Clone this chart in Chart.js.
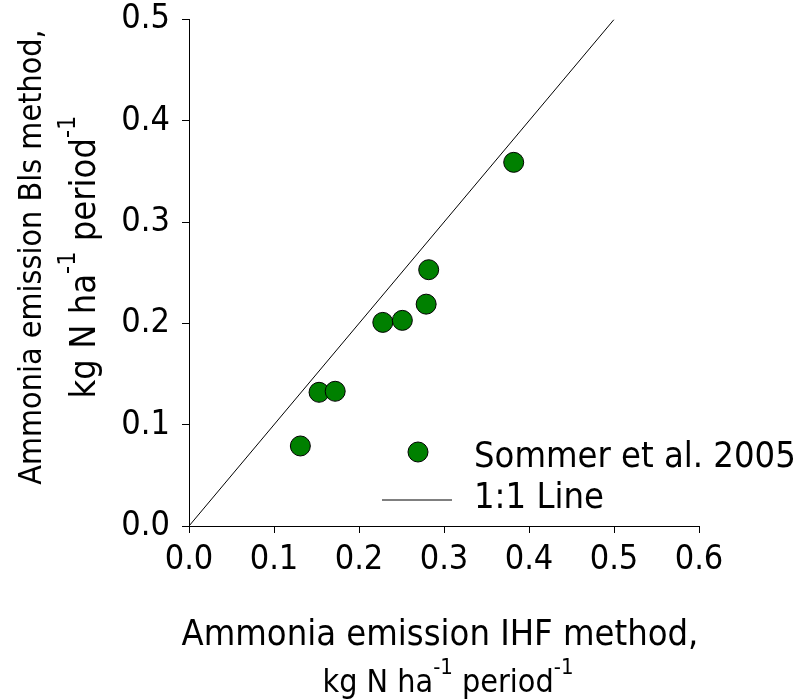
<!DOCTYPE html>
<html>
<head>
<meta charset="utf-8">
<script src="https://cdn.jsdelivr.net/npm/chart.js@4/dist/chart.umd.min.js"></script>
<style>
  html, body { margin: 0; padding: 0; background: #fff; }
  #wrap { width: 800px; height: 700px; }
</style>
</head>
<body>
<div id="wrap"><canvas id="emissionCanvas" width="800" height="700"></canvas></div>
<script>
// IHF (x) vs bLS (y) ammonia emission, kg N/ha per period
const ihfValues = [0.131, 0.153, 0.172, 0.228, 0.251, 0.279, 0.282, 0.382];
const blsValues = [0.079, 0.132, 0.133, 0.201, 0.203, 0.219, 0.253, 0.359];
const oneToOne = [0, 0.5];
const xTicks = [0, 0.1, 0.2, 0.3, 0.4, 0.5, 0.6];
const yTicks = [0, 0.1, 0.2, 0.3, 0.4, 0.5];
const seriesNames = ['Sommer et al. 2005', '1:1 Line'];

const FONT = "'DejaVu Sans Condensed', 'DejaVu Sans', sans-serif";
Chart.defaults.font.family = FONT;
Chart.defaults.color = '#000';

// text with superscripts, centred on cx
const drawRich = (ctx, parts, cx, y, size) => {
  const supSize = Math.round(size * 0.7);
  let total = 0;
  parts.forEach(p => {
    ctx.font = (p.sup ? supSize : size) + 'px ' + FONT;
    p.w = ctx.measureText(p.t).width;
    total += p.w;
  });
  let x = cx - total / 2;
  ctx.textAlign = 'left';
  ctx.textBaseline = 'alphabetic';
  parts.forEach(p => {
    ctx.font = (p.sup ? supSize : size) + 'px ' + FONT;
    ctx.fillText(p.t, x, p.sup ? y - size * 0.55 : y);
    x += p.w;
  });
};

const unitParts = [
  { t: 'kg N ha' }, { t: '-1', sup: true }, { t: ' period' }, { t: '-1', sup: true }
];

const axisTitles = {
  id: 'axisTitles',
  afterDraw(chart) {
    const ctx = chart.ctx;
    const area = chart.chartArea;
    ctx.save();
    ctx.fillStyle = '#000';
    // x title
    const cx = (area.left + area.right) / 2;
    drawRich(ctx, [{ t: 'Ammonia emission IHF method,' }], cx - 4, 645, 36);
    drawRich(ctx, unitParts, cx + 4, 692, 32);
    // y title, rotated
    ctx.translate(0, 257);
    ctx.rotate(-Math.PI / 2);
    drawRich(ctx, [{ t: 'Ammonia emission Bls method,' }], 0, 41, 32);
    drawRich(ctx, unitParts, 0, 95, 36);
    ctx.restore();
  }
};

const legendBox = {
  id: 'legendBox',
  afterDraw(chart) {
    const ctx = chart.ctx;
    const pts = chart.data.datasets[0];
    const line = chart.data.datasets[1];
    ctx.save();
    ctx.beginPath();
    ctx.arc(418, 452, pts.pointRadius, 0, Math.PI * 2);
    ctx.fillStyle = pts.backgroundColor;
    ctx.fill();
    ctx.lineWidth = pts.borderWidth;
    ctx.strokeStyle = pts.borderColor;
    ctx.stroke();
    ctx.beginPath();
    ctx.moveTo(382, 500);
    ctx.lineTo(452, 500);
    ctx.lineWidth = line.borderWidth;
    ctx.strokeStyle = line.borderColor;
    ctx.stroke();
    ctx.fillStyle = '#000';
    ctx.font = '36px ' + FONT;
    ctx.textAlign = 'left';
    ctx.textBaseline = 'alphabetic';
    ctx.fillText(pts.label, 474, 467);
    ctx.fillText(line.label, 474, 508);
    ctx.restore();
  }
};

const axisStyle = (ticks, fit, pad) => ({
  type: 'linear',
  min: ticks[0],
  max: ticks[ticks.length - 1],
  afterBuildTicks: axis => { axis.ticks = ticks.map(v => ({ value: v })); },
  afterFit: fit,
  border: { display: true, color: '#000', width: 1 },
  grid: { drawOnChartArea: false, drawTicks: true, tickLength: 7, color: '#000' },
  ticks: {
    font: { size: 34 },
    color: '#000',
    padding: pad,
    callback: v => v.toFixed(1)
  },
  title: { display: false }
});

const ctx = document.getElementById('emissionCanvas');
new Chart(ctx, {
  type: 'scatter',
  data: {
    datasets: [
      {
        label: seriesNames[0],
        data: ihfValues.map((x, i) => ({ x, y: blsValues[i] })),
        backgroundColor: '#008000',
        borderColor: '#000',
        borderWidth: 1,
        pointRadius: 10,
        pointHoverRadius: 10
      },
      {
        type: 'line',
        label: seriesNames[1],
        data: oneToOne.map(v => ({ x: v, y: v })),
        borderColor: '#000',
        borderWidth: 1,
        pointRadius: 0,
        fill: false
      }
    ]
  },
  options: {
    responsive: false,
    animation: false,
    events: [],
    layout: { padding: { top: 19.5, right: 101, left: 0, bottom: 0 } },
    plugins: {
      legend: { display: false },
      tooltip: { enabled: false }
    },
    scales: {
      x: axisStyle(xTicks, s => { s.height = 174; }, 7),
      y: axisStyle(yTicks, s => {
        s.width = 189;
        s.paddingTop = 0;
        s.paddingBottom = 0;
      }, 12)
    }
  },
  plugins: [axisTitles, legendBox]
});
</script>
</body>
</html>
